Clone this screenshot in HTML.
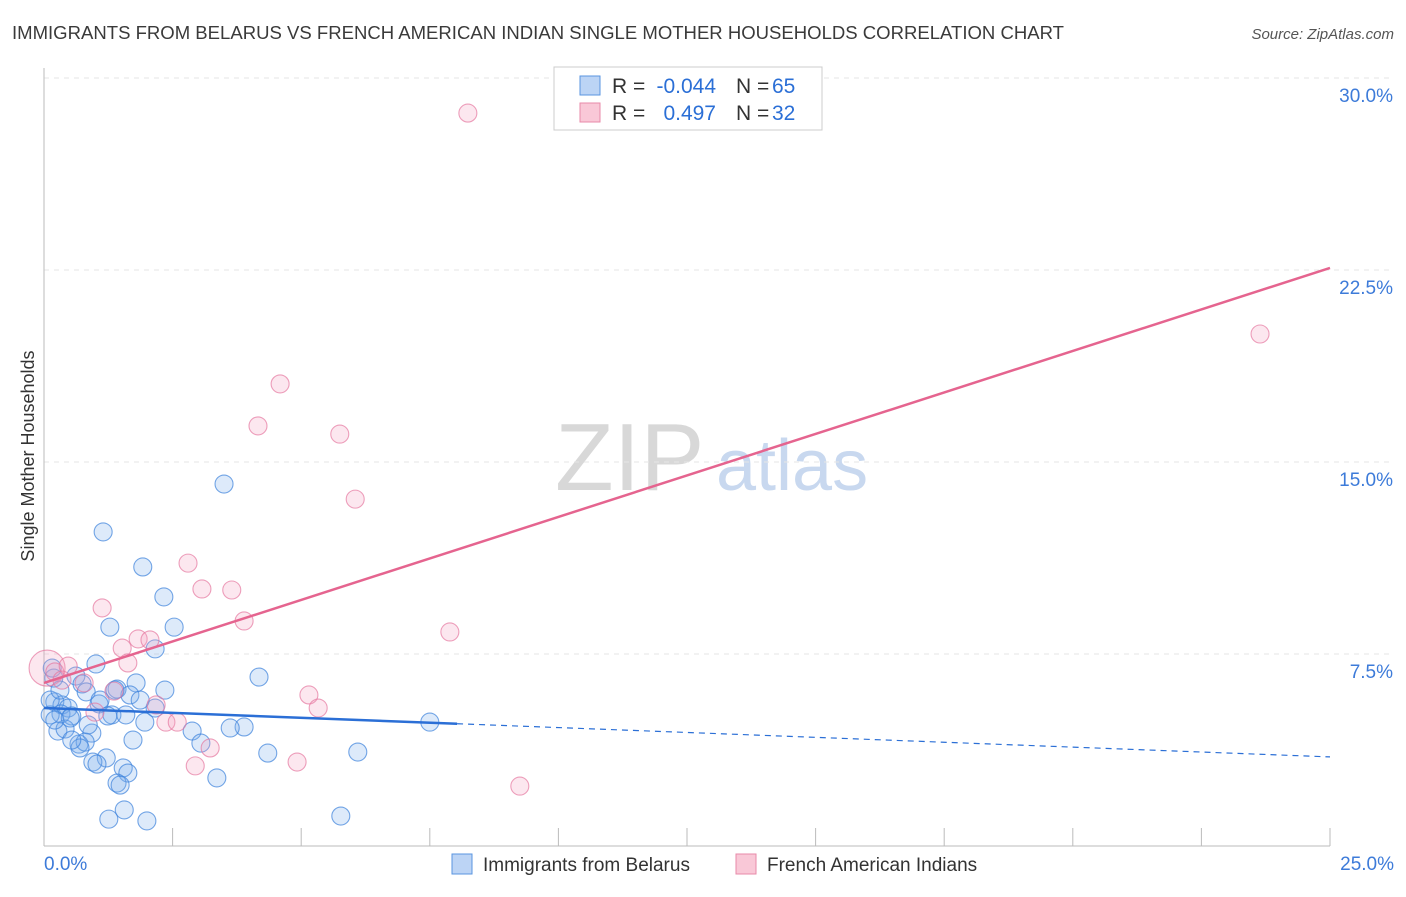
<!DOCTYPE html>
<html><head><meta charset="utf-8"><style>
body{margin:0;background:#fff;font-family:"Liberation Sans",sans-serif;}
svg text{font-family:"Liberation Sans",sans-serif;}
</style></head><body>
<svg id="chart" width="1406" height="892" xmlns="http://www.w3.org/2000/svg">
<text x="12" y="39" font-size="18" fill="#3a3a3a" textLength="1052" lengthAdjust="spacingAndGlyphs">IMMIGRANTS FROM BELARUS VS FRENCH AMERICAN INDIAN SINGLE MOTHER HOUSEHOLDS CORRELATION CHART</text>
<text x="1394" y="39" font-size="15" fill="#555" text-anchor="end" font-style="italic">Source: ZipAtlas.com</text>
<text x="555" y="490" font-size="96" fill="#d8d8d8" font-family="Liberation Serif">ZIP</text>
<text x="716" y="490" font-size="72" fill="#c8d8ef">atlas</text>
<g id="grid"></g><g id="axes"></g><g id="pts"></g><g id="lines"></g>
<text transform="translate(34,456) rotate(-90)" font-size="18" fill="#333" text-anchor="middle">Single Mother Households</text>
<g font-size="21">
<rect x="554" y="67" width="268" height="63" fill="#fff" stroke="#ccc"/>
<rect x="580" y="76" width="20" height="19" fill="#bcd4f5" stroke="#5a95e0"/>
<rect x="580" y="103" width="20" height="19" fill="#f9c8d7" stroke="#e88aa8"/>
<text x="612" y="93" fill="#333">R =</text>
<text x="716" y="93" fill="#2b6fd6" text-anchor="end">-0.044</text>
<text x="736" y="93" fill="#333">N =</text>
<text x="772" y="93" fill="#2b6fd6">65</text>
<text x="612" y="120" fill="#333">R =</text>
<text x="716" y="120" fill="#2b6fd6" text-anchor="end">0.497</text>
<text x="736" y="120" fill="#333">N =</text>
<text x="772" y="120" fill="#2b6fd6">32</text>
</g>
<g>
<rect x="452" y="854" width="20" height="20" fill="#bcd4f5" stroke="#5a95e0"/>
<text x="483" y="871" font-size="19" fill="#333">Immigrants from Belarus</text>
<rect x="736" y="854" width="20" height="20" fill="#f9c8d7" stroke="#e88aa8"/>
<text x="767" y="871" font-size="19" fill="#333">French American Indians</text>
</g>
</svg>
<script>
const yTicks=[7.5,15,22.5,30];
const yTickLabels=["7.5%","15.0%","22.5%","30.0%"];
const xTickLabels=["0.0%","25.0%"];
const blueX=[3.50,1.15,1.92,2.33,1.28,2.53,2.16,1.01,4.18,0.62,0.74,1.79,2.35,1.42,0.82,0.19,1.67,0.21,0.35,0.47,1.07,2.16,1.32,1.59,0.33,0.54,0.12,1.96,2.88,3.89,7.50,0.27,0.41,0.93,1.73,3.05,0.68,0.80,0.70,1.21,4.35,6.10,0.95,1.03,1.54,1.63,3.36,1.42,1.48,1.56,1.26,2.00,5.77,0.12,0.21,0.31,0.51,0.54,0.86,1.09,1.24,1.38,1.87,3.62,0.16];
const blueY=[14.14,12.27,10.90,9.73,8.55,8.55,7.70,7.11,6.60,6.64,6.33,6.37,6.09,6.13,6.02,6.56,5.90,5.63,5.51,5.39,5.55,5.39,5.12,5.12,5.16,5.08,5.12,4.84,4.49,4.65,4.84,4.49,4.57,4.41,4.14,4.02,3.98,4.06,3.83,3.44,3.63,3.67,3.28,3.20,3.05,2.85,2.66,2.46,2.38,1.41,1.05,0.98,1.17,5.70,4.92,6.09,5.00,4.14,4.73,5.70,5.08,6.09,5.70,4.61,6.95];
const pinkX=[8.24,23.64,4.59,4.16,5.75,6.05,2.80,3.07,3.65,1.13,3.89,7.89,1.83,2.06,1.52,1.63,0.06,0.21,0.47,0.78,1.36,5.15,5.33,2.18,0.99,2.37,2.59,3.23,2.94,4.92,9.25,0.35];
const pinkY=[28.63,20.00,18.05,16.41,16.09,13.55,11.05,10.04,10.00,9.30,8.79,8.36,8.09,8.05,7.73,7.15,6.95,6.80,7.03,6.37,6.05,5.90,5.39,5.51,5.23,4.84,4.84,3.83,3.13,3.28,2.34,6.48];
const blueTrend=[5.39,3.48];
const pinkTrend=[6.37,22.58];
const blueSolidEnd=8.03;
const NS="http://www.w3.org/2000/svg";
const X=v=>44+v*51.44, Y=v=>846-v*25.6;
function mk(tag,attrs,parent){const e=document.createElementNS(NS,tag);for(const k in attrs)e.setAttribute(k,attrs[k]);document.getElementById(parent).appendChild(e);return e;}
yTicks.forEach((t,i)=>{
 const l=mk('line',{x1:44,x2:1394,y1:Y(t),y2:Y(t),stroke:'#e6e6e6','stroke-dasharray':'5,5'},'grid');
 
 
 const tx=mk('text',{x:1393,y:Y(t)+24,'font-size':19,fill:'#3d7bd9','text-anchor':'end'},'grid');
 tx.textContent=yTickLabels[i];
 
 
});
mk('line',{x1:44,x2:44,y1:68,y2:846,stroke:'#bbb'},'axes');
mk('line',{x1:44,x2:1330,y1:846,y2:846,stroke:'#bbb'},'axes');
for(let i=0;i<=10;i++){const t=mk('line',{x1:X(i*2.5),x2:X(i*2.5),y1:828,y2:846,stroke:'#bbb'},'axes');
 
 }
[[0,44,'start'],[25,1394,'end']].forEach((a,i)=>{const t=mk('text',{x:a[1],y:870,'font-size':19,fill:'#3d7bd9','text-anchor':a[2]},'axes');t.textContent=xTickLabels[i];
 
 });
blueX.forEach((x,i)=>{const c=mk('circle',{cx:X(x),cy:Y(blueY[i]),r:9,fill:'rgba(120,170,235,0.25)',stroke:'rgba(60,130,220,0.7)','stroke-width':1.1},'pts');
 
 });
pinkX.forEach((x,i)=>{const c=mk('circle',{cx:X(x),cy:Y(pinkY[i]),r:(i==16?18:9),fill:'rgba(245,160,190,0.25)',stroke:'rgba(230,120,160,0.7)','stroke-width':1.1},'pts');
 
 });
const yb=x=>blueTrend[0]+(blueTrend[1]-blueTrend[0])*x/25;
let l1=mk('line',{x1:X(0),y1:Y(yb(0)),x2:X(blueSolidEnd),y2:Y(yb(blueSolidEnd)),stroke:'#2b6fd6','stroke-width':2.5},'lines');


let l2=mk('line',{x1:X(blueSolidEnd),y1:Y(yb(blueSolidEnd)),x2:X(25),y2:Y(yb(25)),stroke:'#2b6fd6','stroke-width':1.2,'stroke-dasharray':'6,5'},'lines');


let l3=mk('line',{x1:X(0),y1:Y(pinkTrend[0]),x2:X(25),y2:Y(pinkTrend[1]),stroke:'#e5648f','stroke-width':2.5},'lines');


</script>
</body></html>
